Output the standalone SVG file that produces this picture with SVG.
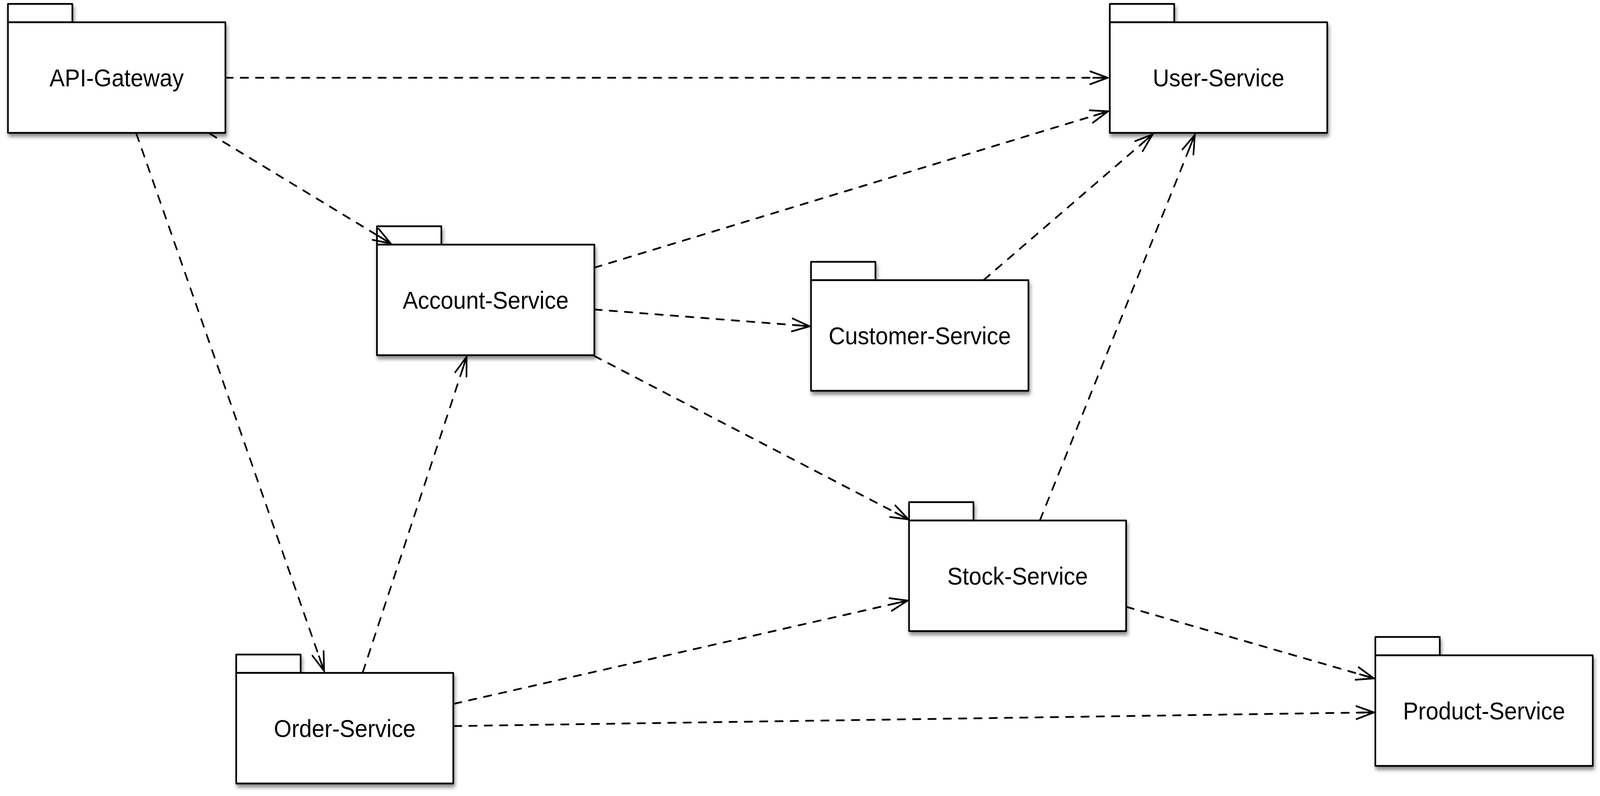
<svg xmlns="http://www.w3.org/2000/svg" width="4423" height="2037" viewBox="0 0 4423 2037" preserveAspectRatio="none" style="width:100vw;height:100vh;max-width:4423px;max-height:2037px;display:block">
<defs>
<style>
.tab,.body{fill:#fff;stroke:#000;stroke-width:4.5;stroke-linejoin:round}
.label{font-family:"Liberation Sans",Helvetica,Arial,sans-serif;font-size:63px;fill:#000;text-anchor:middle}
.dep{fill:none;stroke:#000;stroke-width:4.5;stroke-linecap:round;stroke-dasharray:20.5 21.8;marker-end:url(#open)}
</style>
<filter id="shadow" x="-10%" y="-10%" width="125%" height="130%">
<feDropShadow dx="3" dy="8" stdDeviation="5" flood-color="#000" flood-opacity="0.45"/>
</filter>
<marker id="open" markerUnits="userSpaceOnUse" markerWidth="120" markerHeight="60" refX="0" refY="0" orient="auto" overflow="visible" viewBox="-60 -30 120 60">
<path d="M -48 -16.5 L 0 0 L -48 16.5 M -40 0 L 0 0" fill="none" stroke="#000" stroke-width="4.5" stroke-linecap="round" stroke-linejoin="miter" stroke-dasharray="none"/>
</marker>
</defs>
<rect width="4423" height="2037" fill="#fff"/>
<g id="nodes">
<g id="api-gateway" filter="url(#shadow)">
<rect class="tab" x="22" y="10" width="178" height="47"/>
<rect class="body" x="22" y="57" width="601" height="283"/>
<text class="label" x="322.5" y="221">API-Gateway</text>
</g>
<g id="user-service" filter="url(#shadow)">
<rect class="tab" x="3068" y="10" width="178" height="47"/>
<rect class="body" x="3068" y="57" width="601" height="283"/>
<text class="label" x="3368.5" y="221">User-Service</text>
</g>
<g id="account-service" filter="url(#shadow)">
<rect class="tab" x="1042" y="579" width="178" height="47"/>
<rect class="body" x="1042" y="626" width="601" height="283"/>
<text class="label" x="1342.5" y="790">Account-Service</text>
</g>
<g id="customer-service" filter="url(#shadow)">
<rect class="tab" x="2242" y="670" width="178" height="47"/>
<rect class="body" x="2242" y="717" width="601" height="283"/>
<text class="label" x="2542.5" y="881">Customer-Service</text>
</g>
<g id="stock-service" filter="url(#shadow)">
<rect class="tab" x="2513" y="1285" width="178" height="47"/>
<rect class="body" x="2513" y="1332" width="600" height="283"/>
<text class="label" x="2813" y="1496">Stock-Service</text>
</g>
<g id="order-service" filter="url(#shadow)">
<rect class="tab" x="653" y="1675" width="178" height="47"/>
<rect class="body" x="653" y="1722" width="600" height="283"/>
<text class="label" x="953" y="1886">Order-Service</text>
</g>
<g id="product-service" filter="url(#shadow)">
<rect class="tab" x="3802" y="1630" width="178" height="47"/>
<rect class="body" x="3802" y="1677" width="601" height="283"/>
<text class="label" x="4102.5" y="1841">Product-Service</text>
</g>
</g>
<g id="connectors">
<line class="dep" x1="623" y1="199" x2="3062" y2="199"/>
<line class="dep" x1="580" y1="342" x2="1080" y2="623"/>
<line class="dep" x1="377" y1="342" x2="896" y2="1717"/>
<line class="dep" x1="1643" y1="685" x2="3063" y2="285"/>
<line class="dep" x1="1643" y1="792" x2="2238" y2="835"/>
<line class="dep" x1="1643" y1="911" x2="2511" y2="1329"/>
<line class="dep" x1="2720" y1="716" x2="3186" y2="344"/>
<line class="dep" x1="2875" y1="1331" x2="3303" y2="345"/>
<line class="dep" x1="1003" y1="1720" x2="1290" y2="913"/>
<line class="dep" x1="1255" y1="1801" x2="2509" y2="1537"/>
<line class="dep" x1="1255" y1="1858" x2="3798" y2="1823"/>
<line class="dep" x1="3114" y1="1553" x2="3798" y2="1736"/>
</g>
</svg>
